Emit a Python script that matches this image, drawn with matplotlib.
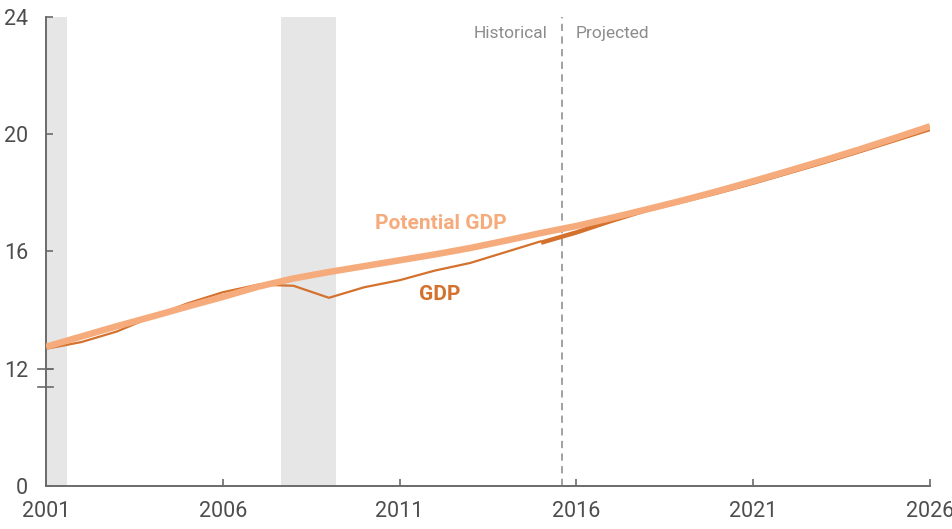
import matplotlib
matplotlib.use("Agg")
import matplotlib.pyplot as plt
import matplotlib.transforms as mtransforms

plt.rcParams['font.family'] = ['Roboto', 'DejaVu Sans']

# Potential GDP, trillions of 2009 dollars
pot_years = list(range(2001, 2027))
pot_values = [12.75, 13.1, 13.45, 13.78, 14.12, 14.45, 14.8, 15.08, 15.3, 15.5,
              15.7, 15.9, 16.12, 16.37, 16.63, 16.87, 17.15, 17.44, 17.74, 18.06,
              18.4, 18.75, 19.11, 19.48, 19.87, 20.27]

# Actual GDP
hist_years = list(range(2001, 2016))
hist_values = [12.68, 12.91, 13.27, 13.77, 14.23, 14.61, 14.87, 14.83, 14.42, 14.78,
               15.02, 15.35, 15.61, 15.98, 16.35]

# Projected GDP
proj_years = list(range(2015, 2027))
proj_values = [16.3, 16.65, 17.05, 17.42, 17.72, 18.02, 18.35, 18.7, 19.05, 19.42,
               19.8, 20.18]

recessions = [(2001.0, 2001.6), (2007.65, 2009.2)]
split_year = 2015.6

y_ticks = [8, 12, 16, 20, 24]
y_labels = ["0", "12", "16", "20", "24"]
x_ticks = [2001, 2006, 2011, 2016, 2021, 2026]

c_pot = "#F5AB7B"
c_gdp = "#D4712D"
c_axis = "#6b6b6b"
c_text = "#4d4d4d"

fig = plt.figure(figsize=(9.53, 5.29), dpi=100)
ax = fig.add_axes([0.0483, 0.0813, 0.9276, 0.8866])

for a, b in recessions:
    ax.axvspan(a, b, color="#E6E6E6", lw=0, zorder=0)

ax.axvline(split_year, color="#9a9a9a", lw=1.3, ls=(0, (4, 3)), zorder=1)

ax.plot(hist_years, hist_values, color=c_gdp, lw=1.6, zorder=2, solid_capstyle="butt")
ax.plot(proj_years, proj_values, color=c_gdp, lw=3.2, zorder=3, solid_capstyle="butt")
ax.plot(pot_years, pot_values, color=c_pot, lw=4.7, zorder=4, solid_capstyle="butt")

ax.set_xlim(2001, 2026)
ax.set_ylim(8, 24)
ax.set_yticks(y_ticks)
ax.set_yticklabels(y_labels)
ax.set_xticks(x_ticks)

for s in ["top", "right"]:
    ax.spines[s].set_visible(False)
for s in ["left", "bottom"]:
    ax.spines[s].set_color(c_axis)
    ax.spines[s].set_linewidth(1.4)

ax.tick_params(axis="both", direction="in", length=5, width=1.2, color=c_axis,
               labelcolor=c_text, labelsize=15.5)
ax.tick_params(axis="y", pad=13)
ax.tick_params(axis="x", pad=11)

# axis break marks
trans = mtransforms.blended_transform_factory(ax.transAxes, ax.transData)
for yv in [12, 11.39]:
    ax.plot([-0.009, 0.008], [yv, yv], color=c_axis, lw=1.2, transform=trans,
            clip_on=False, zorder=5)

ax.text(2012.17, 16.94, "Potential GDP", color=c_pot, fontsize=15, fontweight="bold",
        ha="center", va="center")
ax.text(2012.14, 14.52, "GDP", color=c_gdp, fontsize=15, fontweight="bold",
        ha="center", va="center")
ax.text(2015.17, 23.42, "Historical", color="#8c8c8c", fontsize=12.5, ha="right", va="center")
ax.text(2015.99, 23.42, "Projected", color="#8c8c8c", fontsize=12.5, ha="left", va="center")

fig.savefig("out.png", dpi=100)
